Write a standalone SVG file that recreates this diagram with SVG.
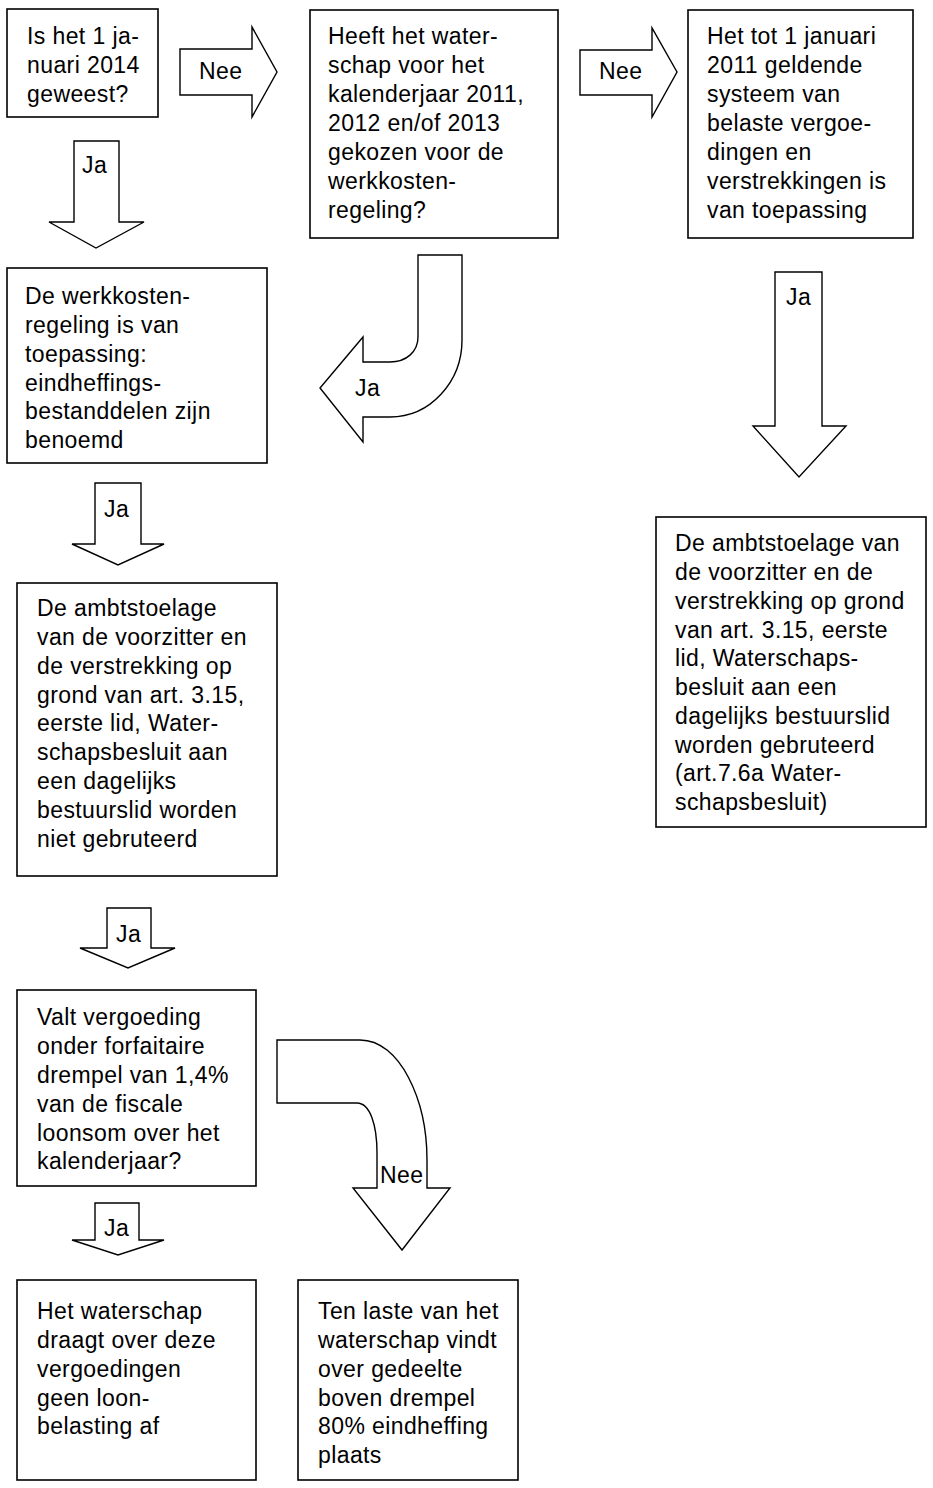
<svg xmlns="http://www.w3.org/2000/svg" width="933" height="1488" viewBox="0 0 933 1488">
<style>
.box{fill:#fff;stroke:#000;stroke-width:1.6}
.arr{fill:#fff;stroke:#000;stroke-width:1.4;stroke-linejoin:miter}
text{font-family:"Liberation Sans",Arial,sans-serif;font-size:23px;letter-spacing:0.4px;fill:#000}
</style>
<rect width="933" height="1488" fill="#fff"/>
<g id="connectors">
<g id="a1"><path class="arr" d="M180,49 L252,49 L252,27 L277,72 L252,117 L252,95 L180,95 Z"/><text x="199" y="79">Nee</text></g>
<g id="a2"><path class="arr" d="M580,50 L652,50 L652,28 L677,72 L652,117 L652,95 L580,95 Z"/><text x="599" y="79">Nee</text></g>
<g id="a3"><path class="arr" d="M74,141 L119,141 L119,222 L144,222 L96,248 L49,222 L74,222 Z"/><text x="82" y="173">Ja</text></g>
<g id="a4"><path class="arr" d="M418,255 L462,255 L462,340 C462,382 430,417 390,417 L363,417 L363,442 L320,388 L363,337 L363,362 L390,362 C406,362 418,352 418,337 Z"/><text x="355" y="396">Ja</text></g>
<g id="a5"><path class="arr" d="M775,272 L822,272 L822,426 L846,426 L799,477 L753,426 L775,426 Z"/><text x="786" y="305">Ja</text></g>
<g id="a6"><path class="arr" d="M95,483 L141,483 L141,544 L164,544 L118,565 L72,544 L95,544 Z"/><text x="104" y="517">Ja</text></g>
<g id="a7"><path class="arr" d="M107,908 L151,908 L151,948 L175,948 L128,968 L80,948 L107,948 Z"/><text x="116" y="942">Ja</text></g>
<g id="a8"><path class="arr" d="M277,1040 L360,1040 C400,1040 427,1100 427,1160 L427,1188 L450,1188 L402,1250 L353,1188 L377,1188 L377,1153 C377,1125 370,1103 357,1103 L277,1103 Z"/><text x="380" y="1183">Nee</text></g>
<g id="a9"><path class="arr" d="M95,1203 L139,1203 L139,1240 L164,1240 L118,1255 L72,1240 L95,1240 Z"/><text x="104" y="1236">Ja</text></g>
</g>
<g id="n1"><rect class="box" x="7" y="9" width="151" height="108"/>
<text><tspan x="27" y="44">Is het 1 ja-</tspan><tspan x="27" y="73">nuari 2014</tspan><tspan x="27" y="102">geweest?</tspan></text></g>
<g id="n2"><rect class="box" x="310" y="10" width="248" height="228"/>
<text><tspan x="328" y="44">Heeft het water-</tspan><tspan x="328" y="73">schap voor het</tspan><tspan x="328" y="102">kalenderjaar 2011,</tspan><tspan x="328" y="131">2012 en/of 2013</tspan><tspan x="328" y="160">gekozen voor de</tspan><tspan x="328" y="189">werkkosten-</tspan><tspan x="328" y="218">regeling?</tspan></text></g>
<g id="n3"><rect class="box" x="688" y="10" width="225" height="228"/>
<text><tspan x="707" y="44">Het tot 1 januari</tspan><tspan x="707" y="73">2011 geldende</tspan><tspan x="707" y="102">systeem van</tspan><tspan x="707" y="131">belaste vergoe-</tspan><tspan x="707" y="160">dingen en</tspan><tspan x="707" y="189">verstrekkingen is</tspan><tspan x="707" y="218">van toepassing</tspan></text></g>
<g id="n4"><rect class="box" x="7" y="268" width="260" height="195"/>
<text><tspan x="25" y="304">De werkkosten-</tspan><tspan x="25" y="333">regeling is van</tspan><tspan x="25" y="362">toepassing:</tspan><tspan x="25" y="391">eindheffings-</tspan><tspan x="25" y="419">bestanddelen zijn</tspan><tspan x="25" y="448">benoemd</tspan></text></g>
<g id="n5"><rect class="box" x="17" y="583" width="260" height="293"/>
<text><tspan x="37" y="616">De ambtstoelage</tspan><tspan x="37" y="645">van de voorzitter en</tspan><tspan x="37" y="674">de verstrekking op</tspan><tspan x="37" y="703">grond van art. 3.15,</tspan><tspan x="37" y="731">eerste lid, Water-</tspan><tspan x="37" y="760">schapsbesluit aan</tspan><tspan x="37" y="789">een dagelijks</tspan><tspan x="37" y="818">bestuurslid worden</tspan><tspan x="37" y="847">niet gebruteerd</tspan></text></g>
<g id="n6"><rect class="box" x="17" y="990" width="239" height="196"/>
<text><tspan x="37" y="1025">Valt vergoeding</tspan><tspan x="37" y="1054">onder forfaitaire</tspan><tspan x="37" y="1083">drempel van 1,4%</tspan><tspan x="37" y="1112">van de fiscale</tspan><tspan x="37" y="1141">loonsom over het</tspan><tspan x="37" y="1169">kalenderjaar?</tspan></text></g>
<g id="n7"><rect class="box" x="17" y="1280" width="239" height="200"/>
<text><tspan x="37" y="1319">Het waterschap</tspan><tspan x="37" y="1348">draagt over deze</tspan><tspan x="37" y="1377">vergoedingen</tspan><tspan x="37" y="1406">geen loon-</tspan><tspan x="37" y="1434">belasting af</tspan></text></g>
<g id="n8"><rect class="box" x="298" y="1280" width="220" height="200"/>
<text><tspan x="318" y="1319">Ten laste van het</tspan><tspan x="318" y="1348">waterschap vindt</tspan><tspan x="318" y="1377">over gedeelte</tspan><tspan x="318" y="1406">boven drempel</tspan><tspan x="318" y="1434">80% eindheffing</tspan><tspan x="318" y="1463">plaats</tspan></text></g>
<g id="n9"><rect class="box" x="656" y="517" width="270" height="310"/>
<text><tspan x="675" y="551">De ambtstoelage van</tspan><tspan x="675" y="580">de voorzitter en de</tspan><tspan x="675" y="609">verstrekking op grond</tspan><tspan x="675" y="638">van art. 3.15, eerste</tspan><tspan x="675" y="666">lid, Waterschaps-</tspan><tspan x="675" y="695">besluit aan een</tspan><tspan x="675" y="724">dagelijks bestuurslid</tspan><tspan x="675" y="753">worden gebruteerd</tspan><tspan x="675" y="781">(art.7.6a Water-</tspan><tspan x="675" y="810">schapsbesluit)</tspan></text></g>
</svg>
